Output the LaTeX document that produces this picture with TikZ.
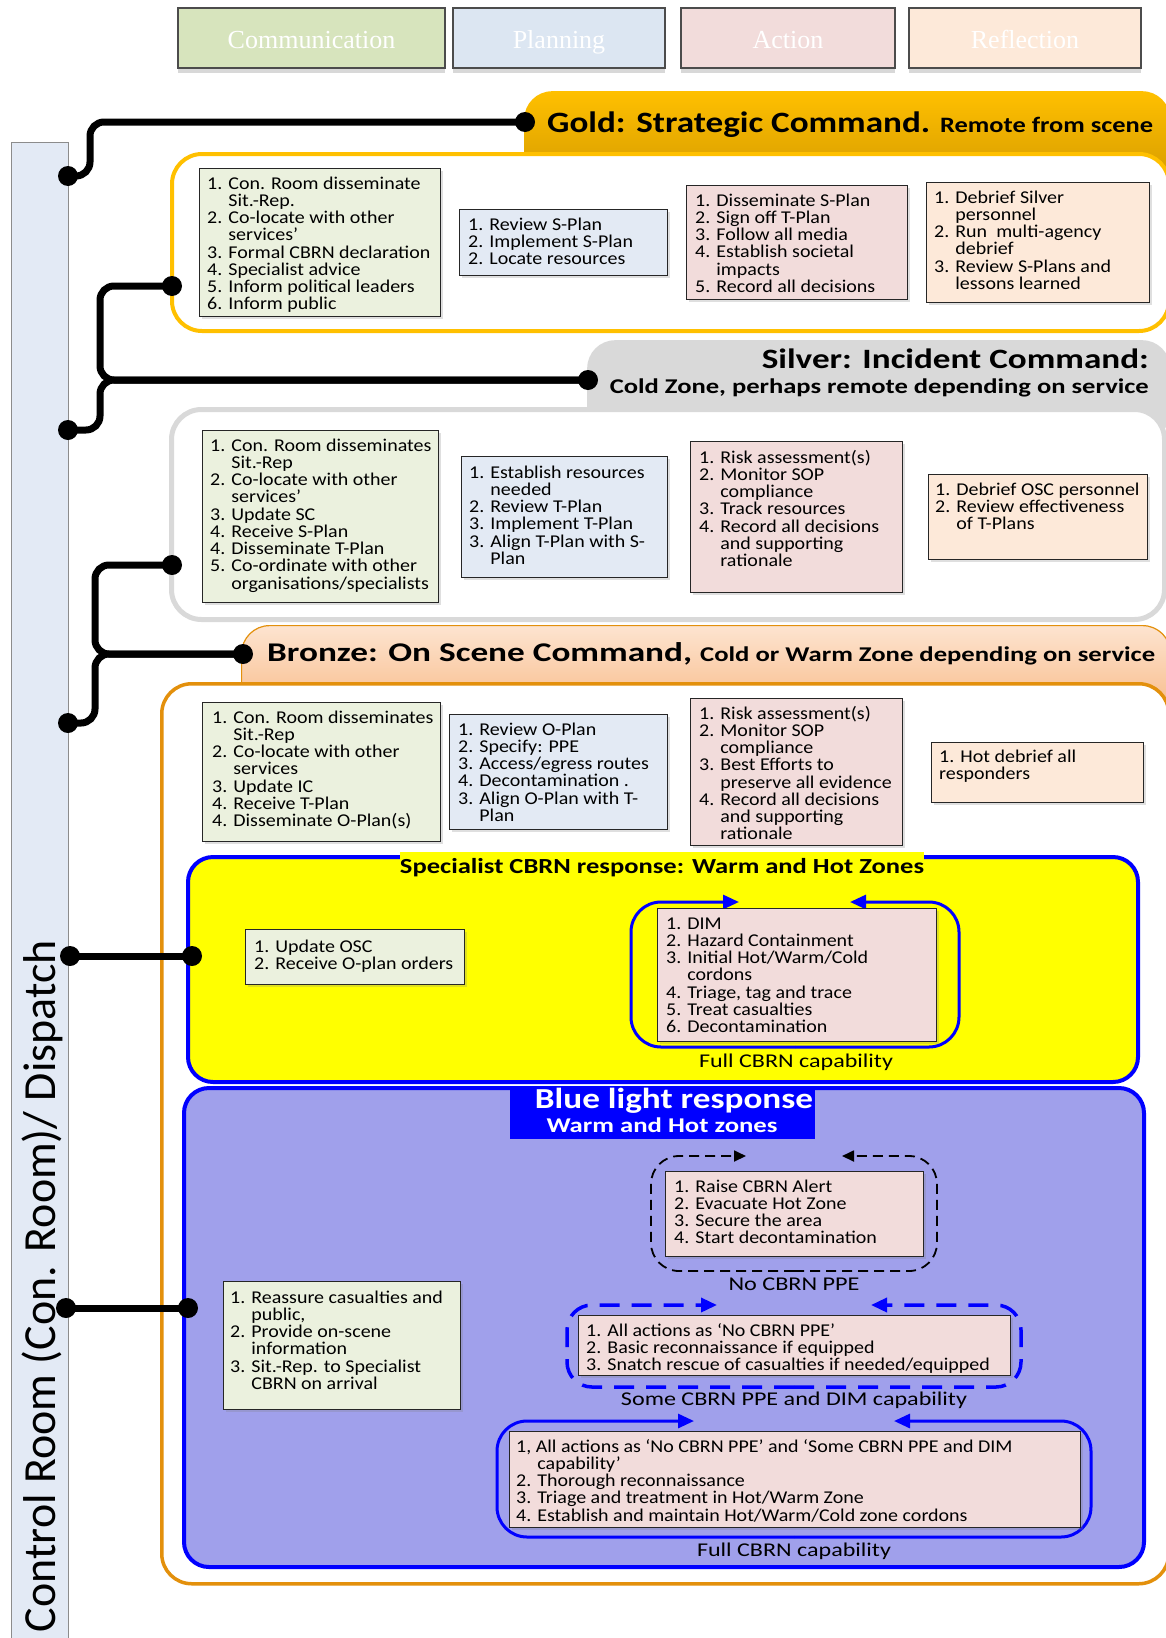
\documentclass[tikz,border=0pt]{standalone}
\usepackage{fontspec}
\usepackage{graphicx}
\setmainfont{Carlito}
\newfontfamily\bodyf[FakeStretch=1.11]{Carlito}
\newfontfamily\legf{Liberation Serif}
\usetikzlibrary{arrows.meta,shadows}
\lineskiplimit=-30pt
\lineskip=0pt

\definecolor{cgreen}{HTML}{EBF1DE}
\definecolor{cplan}{HTML}{E3EAF4}
\definecolor{cact}{HTML}{F2DCDB}
\definecolor{cref}{HTML}{FDE9D9}
\definecolor{lgreen}{HTML}{D7E4BD}
\definecolor{lplan}{HTML}{DCE6F2}
\definecolor{lact}{HTML}{F2DCDB}
\definecolor{lref}{HTML}{FDE9D9}
\definecolor{barfill}{HTML}{E3EAF5}
\definecolor{goldA}{HTML}{FFC000}
\definecolor{goldB}{HTML}{D49A00}
\definecolor{goldline}{HTML}{FFC000}
\definecolor{silverfill}{HTML}{D9D9D9}
\definecolor{bronzeA}{HTML}{FDE4D0}
\definecolor{bronzeB}{HTML}{F7B57E}
\definecolor{bronzeline}{HTML}{E3900C}
\definecolor{pureblue}{HTML}{0000FF}
\definecolor{bluefill}{HTML}{A0A0EB}
\definecolor{pureyellow}{HTML}{FFFF00}

\newcommand\ind{\hphantom{1. }}
\newcommand\fw[2]{\resizebox{#1pt}{\height}{#2}}
\newcommand\fs{\rule{0pt}{14pt}}
\newcommand\bodysize{\bodyf\fontsize{18}{17.25}\selectfont}

\tikzset{
 cbox/.style={draw=black!85, line width=1.3pt, inner sep=0pt, anchor=north west,
   drop shadow={shadow xshift=2pt, shadow yshift=-2pt, opacity=0.25}},
 txt/.style={align=left, inner sep=0pt, anchor=north west, font=\bodysize},
 legbox/.style={draw=black!70, line width=1.2pt, minimum height=60pt, inner sep=0pt,
   text height=24pt, text depth=3pt,
   text=white, font={\legf\fontsize{26}{30}\selectfont},
   drop shadow={shadow xshift=0pt, shadow yshift=-5pt, opacity=0.3}},
 container/.style={anchor=north west, inner sep=0pt, fill=white},
 hdrshape/.style={anchor=north west, inner sep=0pt, rounded corners=28pt},
 htxt/.style={inner sep=0pt},
 captxt/.style={inner sep=0pt, font={\fontsize{19.5}{22}\selectfont}},
 blackdot/.style={circle, fill=black, inner sep=0pt, minimum size=20pt},
 conn/.style={line width=7pt, rounded corners=14pt},
 yloop/.style={draw=pureblue, line width=3pt, rounded corners=30pt, -{Triangle[length=16pt,width=14pt]}},
 bdash/.style={draw=black, line width=1.8pt, dash pattern=on 10pt off 6pt, rounded corners=28pt, -{Triangle[length=12pt,width=11pt]}},
 bldash/.style={draw=pureblue, line width=3.5pt, dash pattern=on 20pt off 12pt, rounded corners=25pt, -{Triangle[length=16pt,width=14pt]}},
 blsolid/.style={draw=pureblue, line width=3pt, rounded corners=30pt, -{Triangle[length=16pt,width=14pt]}}
}

\newcommand\bx[6]{\node[cbox,fill=#2,minimum width=#5pt,minimum height=#6pt] (#1) at (#3,#4) {};}
\newcommand\tx[4]{\node[txt] (#1) at (#2,#3) {\fs #4};}

\begin{document}
\begin{tikzpicture}[x=1pt,y=-1pt]
\useasboundingbox (0,0) rectangle (1166,1638);
\fill[white] (0,0) rectangle (1166,1638);

% control room bar
\node[draw=black!45, line width=1pt, fill=barfill, anchor=north west, minimum width=57pt, minimum height=1530pt, inner sep=0pt] (bar) at (11,142) {};
\node[rotate=90, anchor=base, inner sep=0pt, font={\fontsize{46}{50}\selectfont}] (ctrl) at (55,1286) {\fw{692}{Control Room (Con. Room)/ Dispatch}};

% legend
\node[legbox, fill=lgreen, minimum width=267pt] (lc) at (311.5,38) {Communication};
\node[legbox, fill=lplan, minimum width=212pt] (lp) at (559,38) {Planning};
\node[legbox, fill=lact, minimum width=214pt] (la) at (788,38) {Action};
\node[legbox, fill=lref, minimum width=232pt] (lr) at (1025,38) {Reflection};

% gold
\node[hdrshape, top color=goldA, bottom color=goldB, minimum width=646pt, minimum height=95pt] (goldhdr) at (524,91) {};
\node[container, draw=goldline, line width=4pt, rounded corners=30pt, minimum width=997pt, minimum height=177pt] (goldbox) at (170,152) {};
% silver
\node[hdrshape, fill=silverfill, minimum width=583pt, minimum height=100pt] (silhdr) at (587,340) {};
\node[container, draw=silverfill, line width=5pt, rounded corners=30pt, minimum width=993pt, minimum height=210pt] (silbox) at (169,407) {};
% bronze
\node[hdrshape, top color=bronzeA, bottom color=bronzeB, draw=bronzeline, line width=1.2pt, minimum width=929pt, minimum height=100pt] (brhdr) at (241,625) {};
\node[container, draw=bronzeline, line width=3.5pt, rounded corners=30pt, minimum width=1007pt, minimum height=900pt] (brbox) at (160,682) {};
% yellow and blue regions
\node[container, fill=pureyellow, draw=pureblue, line width=4pt, rounded corners=25pt, minimum width=950pt, minimum height=225pt] (ybox) at (186,855) {};
\node[container, fill=bluefill, draw=pureblue, line width=4pt, rounded corners=25pt, minimum width=960pt, minimum height=479pt] (blbox) at (182,1086) {};

% header texts
\node[htxt, anchor=base west, font={\fontsize{29.5}{32}\selectfont\bfseries}] (goldt1) at (547,132) {\fw{383}{Gold: Strategic Command.}};
\node[htxt, anchor=base west, font={\fontsize{22}{24}\selectfont\bfseries}] (goldt2) at (940,132) {\fw{213}{Remote from scene}};
\node[htxt, anchor=base east, font={\fontsize{28}{30}\selectfont\bfseries}] (silt1) at (1149,368) {\fw{387}{Silver: Incident Command:}};
\node[htxt, anchor=base east, font={\fontsize{21}{24}\selectfont\bfseries}] (silt2) at (1149,393) {\fw{539}{Cold Zone, perhaps remote depending on service}};
\node[htxt, anchor=base west, font={\fontsize{27}{30}\selectfont\bfseries}] (brt1) at (267,661) {\fw{425}{Bronze: On Scene Command,}};
\node[htxt, anchor=base west, font={\fontsize{21}{24}\selectfont\bfseries}] (brt2) at (700,661) {\fw{455}{Cold or Warm Zone depending on service}};
\node[anchor=base, fill=pureyellow, inner xsep=0pt, inner ysep=2pt, font={\fontsize{21.5}{24}\selectfont\bfseries}] (ytitle) at (662,873) {\rule{0pt}{19pt}\fw{524}{Specialist CBRN response: Warm and Hot Zones}};
\node[fill=pureblue, anchor=north west, minimum width=305pt, minimum height=52pt, inner sep=0pt] (bhdr) at (510,1087) {};
\node[htxt, anchor=base, text=white, font={\fontsize{29}{32}\selectfont\bfseries}] (bht1) at (674,1108) {\fw{278}{Blue light response}};
\node[htxt, anchor=base, text=white, font={\fontsize{21}{24}\selectfont\bfseries}] (bht2) at (662,1132) {\fw{231}{Warm and Hot zones}};

% loops
\draw[yloop] (795,1047) -- (631,1047) -- (631,902) -- (739,902);
\draw[yloop] (795,1047) -- (959,1047) -- (959,902) -- (850,902);
\draw[bdash] (794,1271) -- (651,1271) -- (651,1156) -- (746,1156);
\draw[bdash] (794,1271) -- (937,1271) -- (937,1156) -- (842,1156);
\draw[bldash] (794,1387) -- (567,1387) -- (567,1305) -- (717,1305);
\draw[bldash] (794,1387) -- (1021,1387) -- (1021,1305) -- (871,1305);
\draw[blsolid] (794,1537) -- (497,1537) -- (497,1421) -- (694,1421);
\draw[blsolid] (794,1537) -- (1091,1537) -- (1091,1421) -- (894,1421);

% captions
\node[captxt] (cap1) at (796,1062) {\fw{194}{Full CBRN capability}};
\node[captxt] (cap2) at (794,1284) {\fw{131}{No CBRN PPE}};
\node[captxt] (cap3) at (794,1400) {\fw{346}{Some CBRN PPE and DIM capability}};
\node[captxt] (cap4) at (794,1551) {\fw{194}{Full CBRN capability}};

% content boxes
\bx{gC}{cgreen}{199}{168}{241}{148}
\bx{gP}{cplan}{459}{209}{208}{66}
\bx{gA}{cact}{686}{185}{221}{114}
\bx{gR}{cref}{926}{182}{223}{120}
\bx{sC}{cgreen}{202}{430}{236}{172}
\bx{sP}{cplan}{461}{456}{206}{121}
\bx{sA}{cact}{690}{441}{212}{151}
\bx{sR}{cref}{928}{474}{219}{85}
\bx{bC}{cgreen}{202}{702}{238}{139}
\bx{bP}{cplan}{449}{714}{218}{115}
\bx{bA}{cact}{690}{698}{212}{147}
\bx{bR}{cref}{931}{742}{212}{60}
\bx{yC}{cgreen}{245}{929}{219}{55}
\bx{yA}{cact}{657}{908}{279}{133}
\bx{blC}{cgreen}{223}{1281}{237}{128}
\bx{blA1}{cact}{665}{1171}{258}{85}
\bx{blA2}{cact}{578}{1315}{432}{60}
\bx{blA3}{cact}{509}{1431}{571}{96}

% texts
\tx{gCt}{207}{175}{1. Con. Room disseminate\\ \ind Sit.-Rep.\\ 2. Co-locate with other\\ \ind services’\\ 3. Formal CBRN declaration\\ 4. Specialist advice\\ 5. Inform political leaders\\ 6. Inform public}
\tx{gPt}{468}{216}{1. Review S-Plan\\ 2. Implement S-Plan\\ 2. Locate resources}
\tx{gAt}{695}{192}{1. Disseminate S-Plan\\ 2. Sign off T-Plan\\ 3. Follow all media\\ 4. Establish societal\\ \ind impacts\\ 5. Record all decisions}
\tx{gRt}{934}{189}{1. Debrief Silver\\ \ind personnel\\ 2. Run \ multi-agency\\ \ind debrief\\ 3. Review S-Plans and\\ \ind lessons learned}
\tx{sCt}{210}{437}{1. Con. Room disseminates\\ \ind Sit.-Rep\\ 2. Co-locate with other\\ \ind services’\\ 3. Update SC\\ 4. Receive S-Plan\\ 4. Disseminate T-Plan\\ 5. Co-ordinate with other\\ \ind organisations/specialists}
\tx{sPt}{469}{464}{1. Establish resources\\ \ind needed\\ 2. Review T-Plan\\ 3. Implement T-Plan\\ 3. Align T-Plan with S-\\ \ind Plan}
\tx{sAt}{699}{449}{1. Risk assessment(s)\\ 2. Monitor SOP\\ \ind compliance\\ 3. Track resources\\ 4. Record all decisions\\ \ind and supporting\\ \ind rationale}
\tx{sRt}{935}{481}{1. Debrief OSC personnel\\ 2. Review effectiveness\\ \ind of T-Plans}
\tx{bCt}{212}{709}{1. Con. Room disseminates\\ \ind Sit.-Rep\\ 2. Co-locate with other\\ \ind services\\ 3. Update IC\\ 4. Receive T-Plan\\ 4. Disseminate O-Plan(s)}
\tx{bPt}{458}{721}{1. Review O-Plan\\ 2. Specify: PPE\\ 3. Access/egress routes\\ 4. Decontamination .\\ 3. Align O-Plan with T-\\ \ind Plan}
\tx{bAt}{699}{705}{1. Risk assessment(s)\\ 2. Monitor SOP\\ \ind compliance\\ 3. Best Efforts to\\ \ind preserve all evidence\\ 4. Record all decisions\\ \ind and supporting\\ \ind rationale}
\tx{bRt}{939}{748}{1. Hot debrief all\\ responders}
\tx{yCt}{254}{938}{1. Update OSC\\ 2. Receive O-plan orders}
\tx{yAt}{666}{915}{1. DIM\\ 2. Hazard Containment\\ 3. Initial Hot/Warm/Cold\\ \ind cordons\\ 4. Triage, tag and trace\\ 5. Treat casualties\\ 6. Decontamination}
\tx{blCt}{230}{1289}{1. Reassure casualties and\\ \ind public,\\ 2. Provide on-scene\\ \ind information\\ 3. Sit.-Rep. to Specialist\\ \ind CBRN on arrival}
\tx{blA1t}{674}{1178}{1. Raise CBRN Alert\\ 2. Evacuate Hot Zone\\ 3. Secure the area\\ 4. Start decontamination}
\tx{blA2t}{586}{1322}{1. All actions as ‘No CBRN PPE’\\ 2. Basic reconnaissance if equipped\\ 3. Snatch rescue of casualties if needed/equipped}
\tx{blA3t}{516}{1438}{1, All actions as ‘No CBRN PPE’ and ‘Some CBRN PPE and DIM\\ \ind capability’\\ 2. Thorough reconnaissance\\ 3. Triage and treatment in Hot/Warm Zone\\ 4. Establish and maintain Hot/Warm/Cold zone cordons}

% connectors
\node[blackdot] (dbar1) at (68,176) {};
\node[blackdot] (dgh) at (525,122) {};
\node[blackdot] (dgb) at (172,286) {};
\node[blackdot] (dsh) at (588,380) {};
\node[blackdot] (dbar2) at (68,430) {};
\node[blackdot] (dsb) at (172,565) {};
\node[blackdot] (dbh) at (243,654) {};
\node[blackdot] (dbar3) at (68,723) {};
\node[blackdot] (dbar4) at (70,956) {};
\node[blackdot] (dyb) at (192,956) {};
\node[blackdot] (dbar5) at (66,1308) {};
\node[blackdot] (dblb) at (188,1308) {};
\draw[conn] (dbar1.center) -- ++(22,0) |- (dgh.center);
\draw[conn] (dgb.center) -- ++(-72,0) |- (dsh.center);
\draw[conn] (dbar2.center) -- ++(32,0) |- (dsh.center);
\draw[conn] (dsb.center) -- ++(-77,0) |- (dbh.center);
\draw[conn] (dbar3.center) -- ++(27,0) |- (dbh.center);
\draw[conn] (dbar4.center) -- (dyb.center);
\draw[conn] (dbar5.center) -- (dblb.center);
\end{tikzpicture}
\end{document}
